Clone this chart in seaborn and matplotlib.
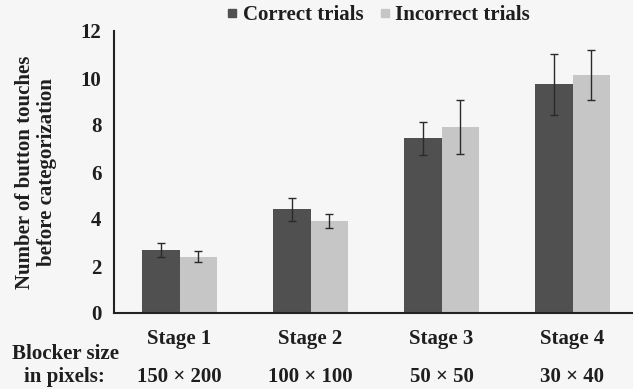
import matplotlib
matplotlib.use("Agg")
import matplotlib.pyplot as plt
from matplotlib.lines import Line2D
import matplotlib.transforms as mtransforms
import seaborn as sns
import pandas as pd
import numpy as np

stages = ["Stage 1", "Stage 2", "Stage 3", "Stage 4"]
blocker_sizes = ["150 × 200", "100 × 100", "50 × 50", "30 × 40"]
series = ["Correct trials", "Incorrect trials"]
correct_mean = [2.68, 4.41, 7.43, 9.74]
incorrect_mean = [2.40, 3.90, 7.93, 10.13]
correct_err = [0.30, 0.50, 0.70, 1.30]
incorrect_err = [0.25, 0.30, 1.15, 1.05]
yticks = [0, 2, 4, 6, 8, 10, 12]

df = pd.DataFrame({
    "stage": stages * 2,
    "trial": [series[0]] * 4 + [series[1]] * 4,
    "mean": correct_mean + incorrect_mean,
    "err": correct_err + incorrect_err,
})

sns.set_style("white")
plt.rcParams["font.family"] = ["Liberation Serif", "DejaVu Serif"]
plt.rcParams["font.weight"] = "bold"

FS = 15
TXT = "#1e1e1e"
colors = ["#505050", "#c6c6c6"]
fig = plt.figure(figsize=(6.33, 3.89), dpi=100, facecolor="#f6f6f6")
ax = fig.add_axes([114 / 633, 76 / 389, 524 / 633, 282 / 389])
ax.set_facecolor("#f6f6f6")

sns.barplot(data=df, x="stage", y="mean", hue="trial", palette=colors,
            errorbar=None, width=0.57, gap=0, ax=ax, legend=False,
            saturation=1, linewidth=0)

# error bars centered on each bar
for container, s in zip(ax.containers, series):
    sub = df[df["trial"] == s]
    xs = [p.get_x() + p.get_width() / 2 for p in container.patches]
    ax.errorbar(xs, sub["mean"].values, yerr=sub["err"].values, fmt="none",
                ecolor="#2a2a2a", elinewidth=1.0, capsize=3.0, capthick=1.0)

ax.set_xlim(-0.5, 3.5)
ax.set_ylim(0, 12)
ax.set_yticks(yticks)
ax.set_yticklabels([str(v) for v in yticks], fontsize=FS, fontweight="bold", color=TXT)
ax.set_xticks([0.5, 1.5, 2.5])
ax.set_xticklabels([])
ax.tick_params(axis="x", direction="out", length=4, width=1.2, color="#222222")
ax.tick_params(axis="y", direction="out", length=5, width=1.2, color="#222222", pad=4)
for sp in ["top", "right"]:
    ax.spines[sp].set_visible(False)
for sp in ["left", "bottom"]:
    ax.spines[sp].set_color("#222222")
    ax.spines[sp].set_linewidth(1.5)
ax.set_xlabel("")
ax.set_ylabel("Number of button touches\nbefore categorization", fontsize=FS,
              fontweight="bold", labelpad=17, linespacing=1.15, color=TXT)

trans = mtransforms.blended_transform_factory(ax.transData, fig.transFigure)
for i, (st, bs) in enumerate(zip(stages, blocker_sizes)):
    ax.text(i, 1 - 339 / 389, st, transform=trans, ha="center", va="center",
            fontsize=FS, fontweight="bold", color=TXT)
    ax.text(i, 1 - 377 / 389, bs, transform=trans, ha="center", va="center",
            fontsize=FS, fontweight="bold", color=TXT)
fig.text(65 / 633, 1 - 354 / 389, "Blocker size", ha="center", va="center",
         fontsize=FS, fontweight="bold", color=TXT)
fig.text(64 / 633, 1 - 377 / 389, "in pixels:", ha="center", va="center",
         fontsize=FS, fontweight="bold", color=TXT)

handles = [Line2D([], [], marker="s", linestyle="none", markersize=6,
                  markerfacecolor=c, markeredgecolor=c) for c in colors]
fig.legend(handles, series, loc="center", bbox_to_anchor=(376 / 633, 1 - 15 / 389),
           ncol=2, frameon=False, handletextpad=0.0, columnspacing=0.55,
           handlelength=1.0, prop={"size": FS, "weight": "bold"}, labelcolor=TXT)

fig.savefig("out.png", dpi=100, facecolor=fig.get_facecolor())
